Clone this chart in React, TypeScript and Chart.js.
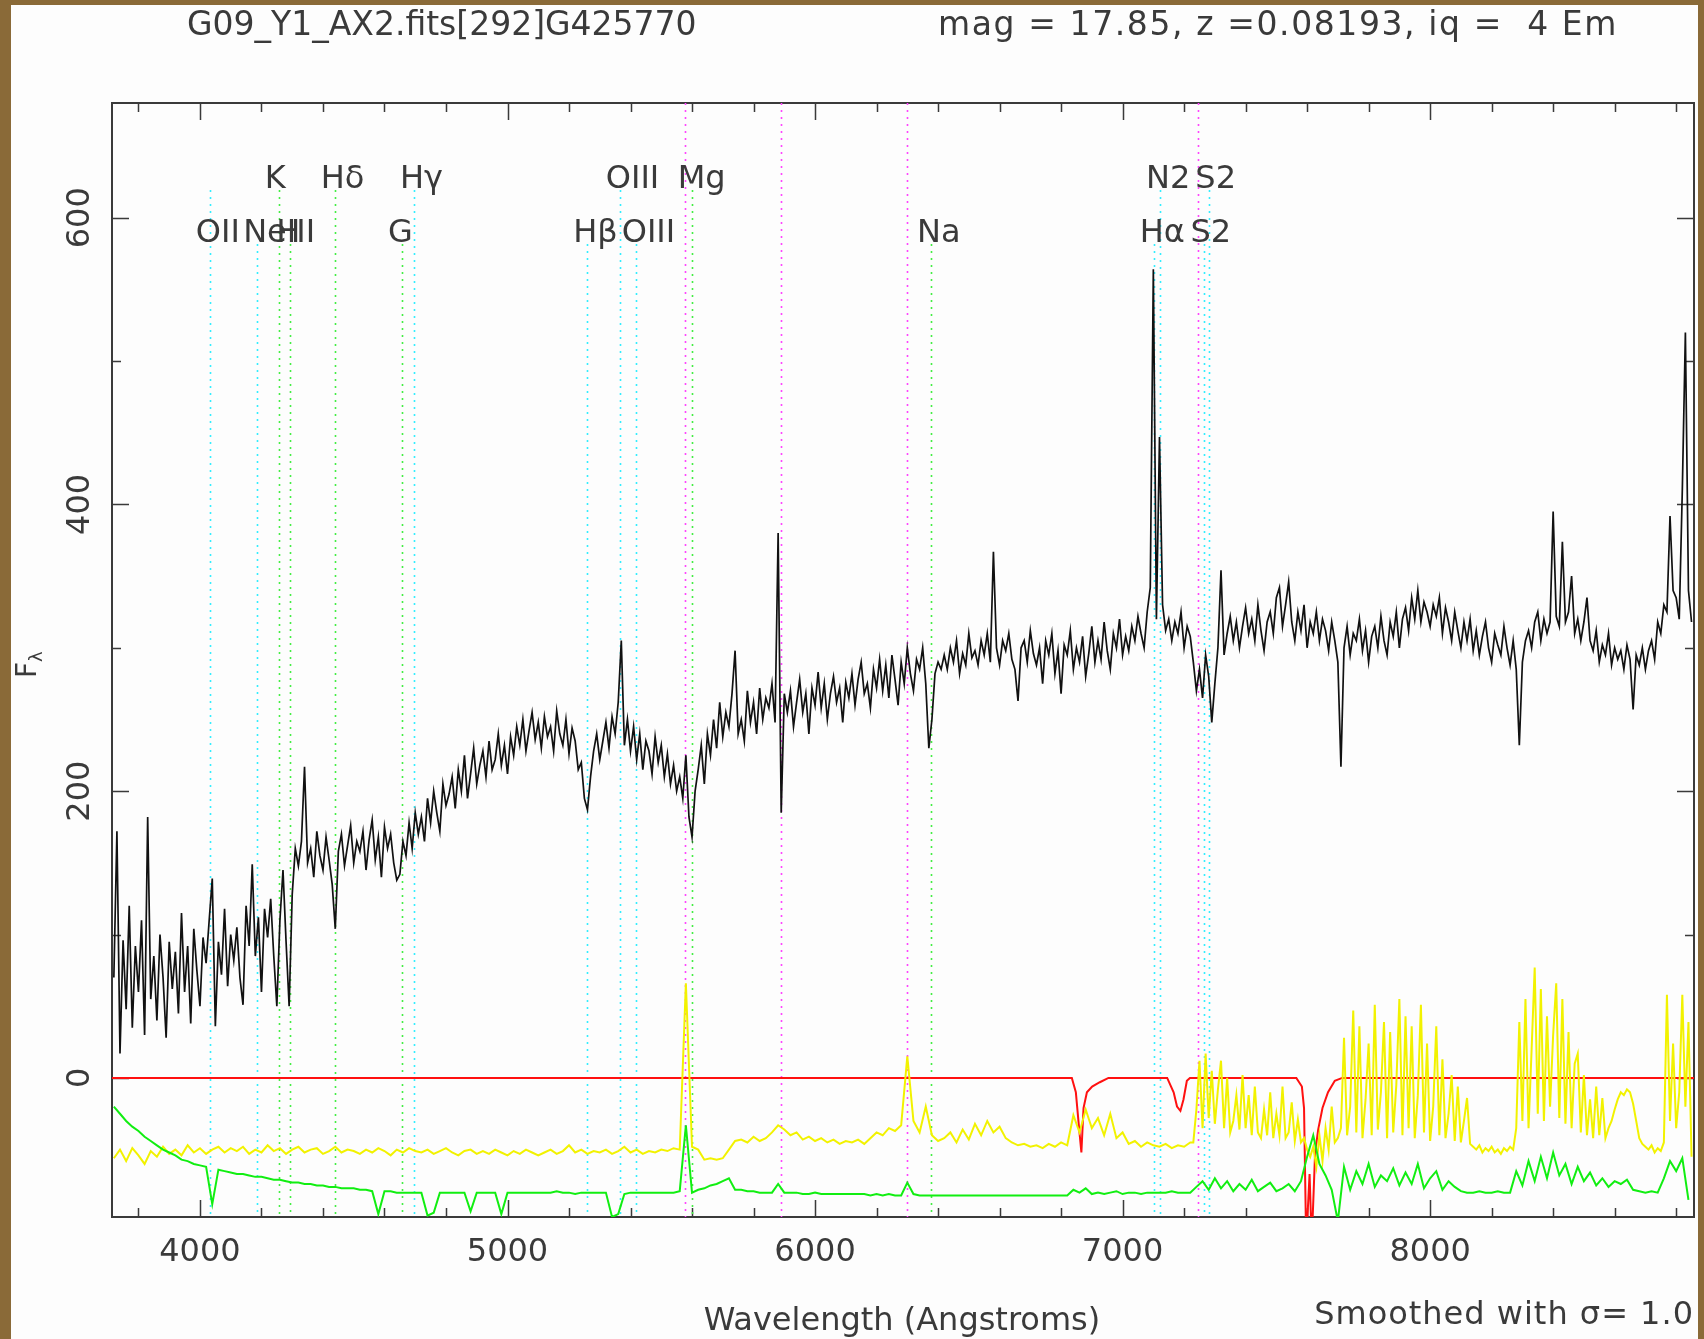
import React, { useEffect, useRef } from 'react';
import { Chart, registerables } from 'chart.js';

Chart.register(...registerables);

// ---- Data ----
const TITLE_LEFT = 'G09_Y1_AX2.fits[292]G425770';
const TITLE_RIGHT = 'mag = 17.85, z =0.08193, iq =  4 Em';
const X_TITLE = 'Wavelength (Angstroms)';
const NOTE = 'Smoothed with \u03c3= 1.0';

const X_MIN = 3714;
const X_MAX = 8858;
const Y_MIN = -97;
const Y_MAX = 680;

const xTickLabels = [4000, 5000, 6000, 7000, 8000];
const yTickLabels = [0, 200, 400, 600];
const X_MINOR_STEP = 200;
const Y_MINOR_STEP = 100;

// Galaxy spectrum, 10 A bins starting at 3720 A
const FLUX_START = 3720;
const FLUX_STEP = 10;
const fluxValues = [
  70, 172, 17, 96, 48, 120, 35, 92, 60, 110,
  30, 182, 55, 85, 40, 100, 70, 28, 95, 62,
  88, 45, 115, 60, 92, 38, 104, 75, 50, 98,
  80, 110, 139, 36, 95, 72, 118, 64, 100, 82,
  105, 70, 51, 120, 92, 149, 85, 112, 60, 118,
  98, 125, 85, 50, 110, 145, 95, 50, 128, 160,
  148, 165, 217, 150, 160, 140, 172, 155, 145, 168,
  152, 135, 104, 158, 170, 148, 162, 176, 150, 165,
  158, 172, 145, 166, 180, 152, 168, 140, 175, 160,
  170, 150, 138, 142, 165, 155, 178, 160, 185, 170,
  182, 165, 195, 178, 200, 185, 172, 205, 190, 198,
  210, 188, 215, 200, 225, 195, 212, 230, 205, 218,
  228, 210, 235, 215, 222, 240, 218, 232, 212, 238,
  225, 245, 232, 250, 228, 242, 255, 236, 248, 230,
  252, 238, 245, 228, 256, 240, 232, 250, 226, 244,
  235, 215, 220, 195, 187, 210, 228, 240, 222, 235,
  248, 230, 252, 240, 262, 305, 232, 250, 228, 245,
  222, 240, 215, 235, 228, 212, 238, 220, 232, 210,
  226, 205, 218, 200, 210, 195, 225, 182, 168, 200,
  215, 232, 205, 240, 225, 250, 230, 262, 238, 255,
  245, 268, 298, 240, 250, 235, 270, 248, 262, 240,
  272, 250, 265, 258, 275, 248, 380, 185, 268, 255,
  270, 245, 262, 278, 255, 268, 240, 272, 260, 283,
  258, 275, 250, 268, 280, 262, 272, 248, 276, 265,
  282, 260, 278, 290, 268, 275, 258, 285, 272, 292,
  270, 288, 265, 295, 278, 260, 290, 275, 300, 282,
  270, 292, 285, 300, 275, 230, 250, 282, 290, 285,
  295, 285, 300, 290, 305, 282, 296, 288, 310, 293,
  298, 288, 305, 295, 310, 290, 367, 300, 288, 305,
  298, 310, 292, 285, 263, 300, 305, 290, 312, 296,
  288, 300, 275, 305, 295, 310, 282, 298, 268, 302,
  295, 312, 285, 300, 290, 308, 280, 296, 315, 290,
  305, 292, 318, 298, 285, 310, 300, 320, 295, 308,
  298, 315, 305, 322, 310, 300, 325, 342, 564, 320,
  447, 330, 312, 320, 305, 318, 310, 325, 300, 315,
  308, 290, 270, 285, 265, 295, 280, 248, 275, 300,
  354, 295, 310, 322, 305, 318, 300, 315, 328, 310,
  320, 305, 330, 312, 298, 318, 325, 310, 335, 342,
  315, 330, 346, 318, 305, 325, 312, 330, 300, 318,
  310, 325, 305, 320, 312, 298, 318, 305, 290, 217,
  300, 315, 295, 310, 305, 320, 298, 312, 290, 308,
  315, 300, 322, 305, 295, 318, 308, 325, 300, 320,
  328, 312, 335, 320, 340, 318, 332, 325, 315, 330,
  322, 335, 310, 328, 318, 305, 325, 312, 300, 318,
  305, 320, 298, 312, 295, 308, 318, 300, 290, 310,
  302, 295, 315, 300, 288, 305, 285, 232, 290, 305,
  312, 300, 318, 325, 305, 320, 310, 318, 395, 322,
  315, 374, 318, 325, 350, 310, 320, 305, 318, 335,
  305, 298, 312, 290, 302, 295, 310, 288, 300, 292,
  298, 285, 302, 292, 257, 295, 288, 300, 285, 298,
  305, 292, 318, 310, 330, 325, 392, 340, 335, 320,
  410, 520, 340, 318,
];

// Sky (yellow): 20 A bins from 3720 A to 7220 A ...
const SKY_BLUE_START = 3720;
const SKY_BLUE_STEP = 20;
const skyBlueValues = [
  -56, -50, -58, -49, -54, -60, -51, -55, -48, -53,
  -50, -54, -47, -52, -49, -53, -50, -48, -52, -49,
  -51, -48, -53, -50, -52, -47, -51, -49, -53, -50,
  -48, -52, -50, -49, -53, -51, -48, -52, -50, -51,
  -53, -50, -52, -49, -51, -54, -50, -52, -49, -51,
  -52, -50, -53, -51, -49, -52, -54, -51, -50, -53,
  -51, -53, -50, -52, -54, -51, -53, -50, -52, -54,
  -52, -50, -53, -51, -47, -52, -50, -53, -51, -52,
  -50, -53, -51, -48, -52, -50, -53, -51, -52, -50,
  -51, -49, -50, 66, -48, -50, -57, -56, -57, -56,
  -50, -44, -43, -45, -41, -44, -42, -38, -33, -36,
  -40, -38, -43, -41, -44, -42, -45, -43, -46, -44,
  -45, -43, -46, -42, -38, -40, -35, -37, -33, 15,
  -30, -38, -20, -40, -44, -42, -38, -45, -36, -43,
  -32, -40, -30, -38, -34, -42, -45, -47, -46, -48,
  -47, -49, -46, -48, -45, -47, -26, -38, -22, -35,
  -28, -40, -25, -42, -38, -46, -44, -48, -45, -47,
  -48, -46, -49, -47, -48, -45,
];
// ... and 10 A bins from 7230 A to 8850 A (dense sky-line forest)
const SKY_RED_START = 7230;
const SKY_RED_STEP = 10;
const skyRedValues = [
  -45, -22, 12, -35, 17, -28, 5, -32, -8, 12,
  -35, 0, -38, -30, -12, -36, 2, -35, -12, -40,
  -6, -38, -42, -22, -40, -10, -42, -25, -40, -6,
  -42, -38, -17, -44, -29, -45, -42, -50, -55, -48,
  -62, -40, -58, -35, -50, -20, -45, -42, -35, 28,
  -40, -20, 47, -38, 36, -42, -15, 24, -40, 51,
  -36, -10, 39, -42, 32, -38, -5, 55, -40, 43,
  -35, 36, -42, -12, 51, -38, 24, -44, -20, 36,
  -40, 13, -42, -25, 2, -44, -6, -45, -30, -14,
  -46, -48, -50, -47, -52, -49, -51, -48, -52, -50,
  -53, -49, -51, -48, -50, -35, 39, -30, 55, -35,
  20, 77, -25, 62, -30, 43, -20, 30, 66, -28,
  55, -32, 32, -35, 10, 17, -38, 2, -40, -15,
  -42, -6, -40, -14, -42, -35, -30, -22, -15, -10,
  -12, -8, -10, -18, -30, -42, -46, -48, -50, -47,
  -52, -49, -51, -45, 58, -30, 24, -35, -10, 58,
  -20, 39, -55,
];

// Noise (green), 20 A bins starting at 3720 A
const NOISE_START = 3720;
const NOISE_STEP = 20;
const noiseValues = [
  -20, -25, -30, -34, -37, -41, -44, -47, -50, -52,
  -54, -57, -58, -60, -61, -62, -88, -64, -65, -66,
  -67, -67, -68, -69, -69, -70, -71, -71, -72, -73,
  -73, -74, -74, -75, -75, -76, -76, -77, -77, -77,
  -78, -78, -79, -95, -79, -79, -80, -80, -80, -80,
  -80, -96, -94, -80, -80, -80, -80, -80, -93, -80,
  -80, -80, -80, -95, -80, -80, -80, -80, -80, -80,
  -80, -80, -79, -80, -80, -81, -80, -80, -80, -80,
  -80, -97, -95, -81, -80, -80, -80, -80, -80, -80,
  -80, -80, -79, -33, -80, -78, -77, -75, -74, -72,
  -70, -78, -78, -79, -79, -80, -80, -80, -74, -80,
  -80, -80, -81, -81, -80, -81, -81, -81, -81, -81,
  -81, -81, -81, -82, -81, -82, -81, -82, -82, -73,
  -81, -82, -82, -82, -82, -82, -82, -82, -82, -82,
  -82, -82, -82, -82, -82, -82, -82, -82, -82, -82,
  -82, -82, -82, -82, -82, -82, -78, -80, -77, -81,
  -80, -81, -80, -79, -81, -80, -80, -81, -80, -80,
  -80, -80, -79, -80, -80, -80, -76, -72, -78, -70,
  -77, -72, -79, -74, -78, -71, -79, -76, -73, -79,
  -77, -74, -79, -72, -55, -40, -60, -68, -78, -100,
  -62, -78, -65, -74, -60, -76, -68, -72, -63, -75,
  -66, -74, -60, -77, -70, -65, -78, -72, -76, -79,
  -80, -80, -79, -80, -80, -79, -80, -80, -65, -75,
  -58, -72, -55, -70, -52, -68, -60, -74, -62, -72,
  -66, -75, -70, -76, -72, -74, -71, -78, -79, -80,
  -79, -80, -70, -58, -65, -56, -85,
];

// Telluric correction (red)
const telluricWaves = [
  3714, 6835, 6848, 6859, 6866, 6873, 6884, 6901, 6926, 6954,
  7145, 7166, 7177, 7188, 7198, 7209, 7219,
  7565, 7583, 7590, 7597, 7608, 7615, 7626, 7636, 7650, 7668, 7690, 7714, 8858,
];
const telluricValues = [
  0, 0, -10, -36, -52, -21, -10, -6, -3, 0,
  0, -10, -20, -23, -15, -2, 0,
  0, -6, -21, -115, -67, -115, -52, -36, -21, -10, -2, 0, 0,
];

// Spectral features
const featureLabels = ['OII', 'NeIII', 'K', 'H', 'H\u03b4', 'G', 'H\u03b3', 'H\u03b2', 'OIII', 'OIII', 'Mg', 'Na', 'H\u03b1', 'N2', 'S2', 'S2'];
const featureWaves = [4032, 4186, 4256, 4294, 4438, 4657, 4696, 5259, 5365, 5417, 5599, 6377, 7101, 7122, 7266, 7282];
const featureTypes = ['em', 'em', 'abs', 'abs', 'abs', 'abs', 'em', 'em', 'em', 'em', 'abs', 'abs', 'em', 'em', 'em', 'em'];
const featureLabelRows = [1, 1, 0, 1, 0, 1, 0, 1, 0, 1, 0, 1, 1, 0, 1, 0];
const featureLineRows = [0, 1, 0, 1, 0, 1, 0, 1, 0, 1, 0, 1, 1, 0, 1, 0];
const skyLineWaves = [5577, 5890, 6300, 7246];

// ---- Styling ----
const FONT = '"DejaVu Sans", "Liberation Sans", sans-serif';
const INK = '#3a3a3a';
const BROWN = '#8a6a38';

const pgplotPlugin = {
  id: 'pgplot',
  beforeDraw(chart: any) {
    const { ctx, width, height } = chart;
    ctx.save();
    ctx.fillStyle = BROWN;
    ctx.fillRect(0, 0, width, height);
    ctx.fillStyle = '#fdfdfd';
    ctx.fillRect(11, 5, width - 11 - 6, height - 5);
    ctx.restore();
  },
  beforeDatasetsDraw(chart: any) {
    const { ctx, chartArea } = chart;
    const xs = chart.scales.x;
    const ys = chart.scales.y;
    const { left, right, top, bottom } = chartArea;
    ctx.save();
    // frame and inward ticks
    ctx.strokeStyle = INK;
    ctx.lineWidth = 2;
    ctx.strokeRect(left, top, right - left, bottom - top);
    ctx.lineWidth = 1.5;
    for (let v = Math.ceil(X_MIN / X_MINOR_STEP) * X_MINOR_STEP; v <= X_MAX; v += X_MINOR_STEP) {
      const px = Math.round(xs.getPixelForValue(v)) + 0.5;
      const len = xTickLabels.includes(v) ? 17 : 9;
      ctx.beginPath();
      ctx.moveTo(px, bottom);
      ctx.lineTo(px, bottom - len);
      ctx.moveTo(px, top);
      ctx.lineTo(px, top + len);
      ctx.stroke();
    }
    for (let v = Math.ceil(Y_MIN / Y_MINOR_STEP) * Y_MINOR_STEP; v <= Y_MAX; v += Y_MINOR_STEP) {
      const py = Math.round(ys.getPixelForValue(v)) + 0.5;
      const len = yTickLabels.includes(v) ? 17 : 9;
      ctx.beginPath();
      ctx.moveTo(left, py);
      ctx.lineTo(left + len, py);
      ctx.moveTo(right, py);
      ctx.lineTo(right - len, py);
      ctx.stroke();
    }
    // feature marker lines
    const rowTop = [top + 87, top + 141];
    const rowBase = [top + 85, top + 139];
    ctx.lineWidth = 1.6;
    ctx.setLineDash([2, 5]);
    skyLineWaves.forEach((w) => {
      const px = Math.round(xs.getPixelForValue(w)) + 0.5;
      ctx.strokeStyle = '#ff44ff';
      ctx.beginPath();
      ctx.moveTo(px, top);
      ctx.lineTo(px, bottom);
      ctx.stroke();
    });
    featureWaves.forEach((w, i) => {
      const px = Math.round(xs.getPixelForValue(w)) + 0.5;
      ctx.strokeStyle = featureTypes[i] === 'em' ? '#33eeff' : '#44ee44';
      ctx.beginPath();
      ctx.moveTo(px, rowTop[featureLineRows[i]]);
      ctx.lineTo(px, bottom);
      ctx.stroke();
    });
    ctx.setLineDash([]);
    ctx.fillStyle = INK;
    ctx.font = `32px ${FONT}`;
    ctx.textAlign = 'left';
    ctx.textBaseline = 'alphabetic';
    featureWaves.forEach((w, i) => {
      const px = xs.getPixelForValue(w);
      ctx.fillText(featureLabels[i], px - 14, rowBase[featureLabelRows[i]]);
    });
    ctx.restore();
  },
  afterDatasetsDraw(chart: any) {
    const { ctx, chartArea } = chart;
    const xs = chart.scales.x;
    const ys = chart.scales.y;
    const { left, right, bottom } = chartArea;
    ctx.save();
    ctx.fillStyle = INK;
    ctx.font = `32px ${FONT}`;
    ctx.textBaseline = 'alphabetic';
    ctx.textAlign = 'center';
    xTickLabels.forEach((v) => {
      ctx.fillText(String(v), xs.getPixelForValue(v), bottom + 44);
    });
    yTickLabels.forEach((v) => {
      ctx.save();
      ctx.translate(left - 23, ys.getPixelForValue(v));
      ctx.rotate(-Math.PI / 2);
      ctx.fillText(String(v), 0, 0);
      ctx.restore();
    });
    // y axis title F_lambda
    ctx.save();
    ctx.translate(36, (chartArea.top + bottom) / 2 + 8);
    ctx.rotate(-Math.PI / 2);
    ctx.textAlign = 'left';
    ctx.font = `28px ${FONT}`;
    ctx.fillText('F', -10, 0);
    ctx.font = `18px ${FONT}`;
    ctx.fillText('\u03bb', 6, 6);
    ctx.restore();
    // x axis title and note
    ctx.font = `32px ${FONT}`;
    ctx.textAlign = 'center';
    ctx.fillText(X_TITLE, 902, bottom + 113);
    ctx.textAlign = 'right';
    (ctx as any).letterSpacing = '1px';
    ctx.fillText(NOTE, right, bottom + 107);
    // titles
    ctx.font = `33px ${FONT}`;
    ctx.textAlign = 'left';
    (ctx as any).letterSpacing = '0px';
    ctx.fillText(TITLE_LEFT, 187, 35);
    (ctx as any).letterSpacing = '1.6px';
    ctx.fillText(TITLE_RIGHT, 938, 35);
    ctx.restore();
  },
};

export default function App() {
  const canvasRef = useRef<HTMLCanvasElement | null>(null);

  useEffect(() => {
    document.body.style.margin = '0';
    const canvas = canvasRef.current;
    if (!canvas) return;

    const flux = fluxValues.map((v, i) => ({ x: FLUX_START + i * FLUX_STEP, y: v }));
    const sky = skyBlueValues
      .map((v, i) => ({ x: SKY_BLUE_START + i * SKY_BLUE_STEP, y: v }))
      .concat(skyRedValues.map((v, i) => ({ x: SKY_RED_START + i * SKY_RED_STEP, y: v })));
    const noise = noiseValues.map((v, i) => ({ x: NOISE_START + i * NOISE_STEP, y: v }));
    const telluric = telluricWaves.map((w, i) => ({ x: w, y: telluricValues[i] }));

    const common = { pointRadius: 0, fill: false, tension: 0, borderJoinStyle: 'miter' as const };

    const chart = new Chart(canvas, {
      type: 'line',
      data: {
        datasets: [
          { label: 'Flux', data: flux, borderColor: '#111111', borderWidth: 1.7, order: 4, ...common },
          { label: 'Telluric', data: telluric, borderColor: '#ff1010', borderWidth: 2, order: 3, ...common },
          { label: 'Sky', data: sky, borderColor: '#f2f200', borderWidth: 2, order: 2, ...common },
          { label: 'Noise', data: noise, borderColor: '#11ee11', borderWidth: 2, order: 1, ...common },
        ],
      },
      options: {
        animation: false,
        responsive: false,
        devicePixelRatio: 1,
        parsing: false as any,
        normalized: true,
        layout: { padding: { left: 112, top: 103, right: 10, bottom: 122 } },
        scales: {
          x: { type: 'linear', min: X_MIN, max: X_MAX, display: false },
          y: { type: 'linear', min: Y_MIN, max: Y_MAX, display: false },
        },
        plugins: {
          legend: { display: false },
          tooltip: { enabled: false },
          title: { display: false },
        },
        events: [],
      },
      plugins: [pgplotPlugin],
    });

    return () => chart.destroy();
  }, []);

  return (
    <div style={{ width: 1704, height: 1339 }}>
      <canvas ref={canvasRef} width={1704} height={1339} style={{ display: 'block', width: 1704, height: 1339 }} />
    </div>
  );
}
